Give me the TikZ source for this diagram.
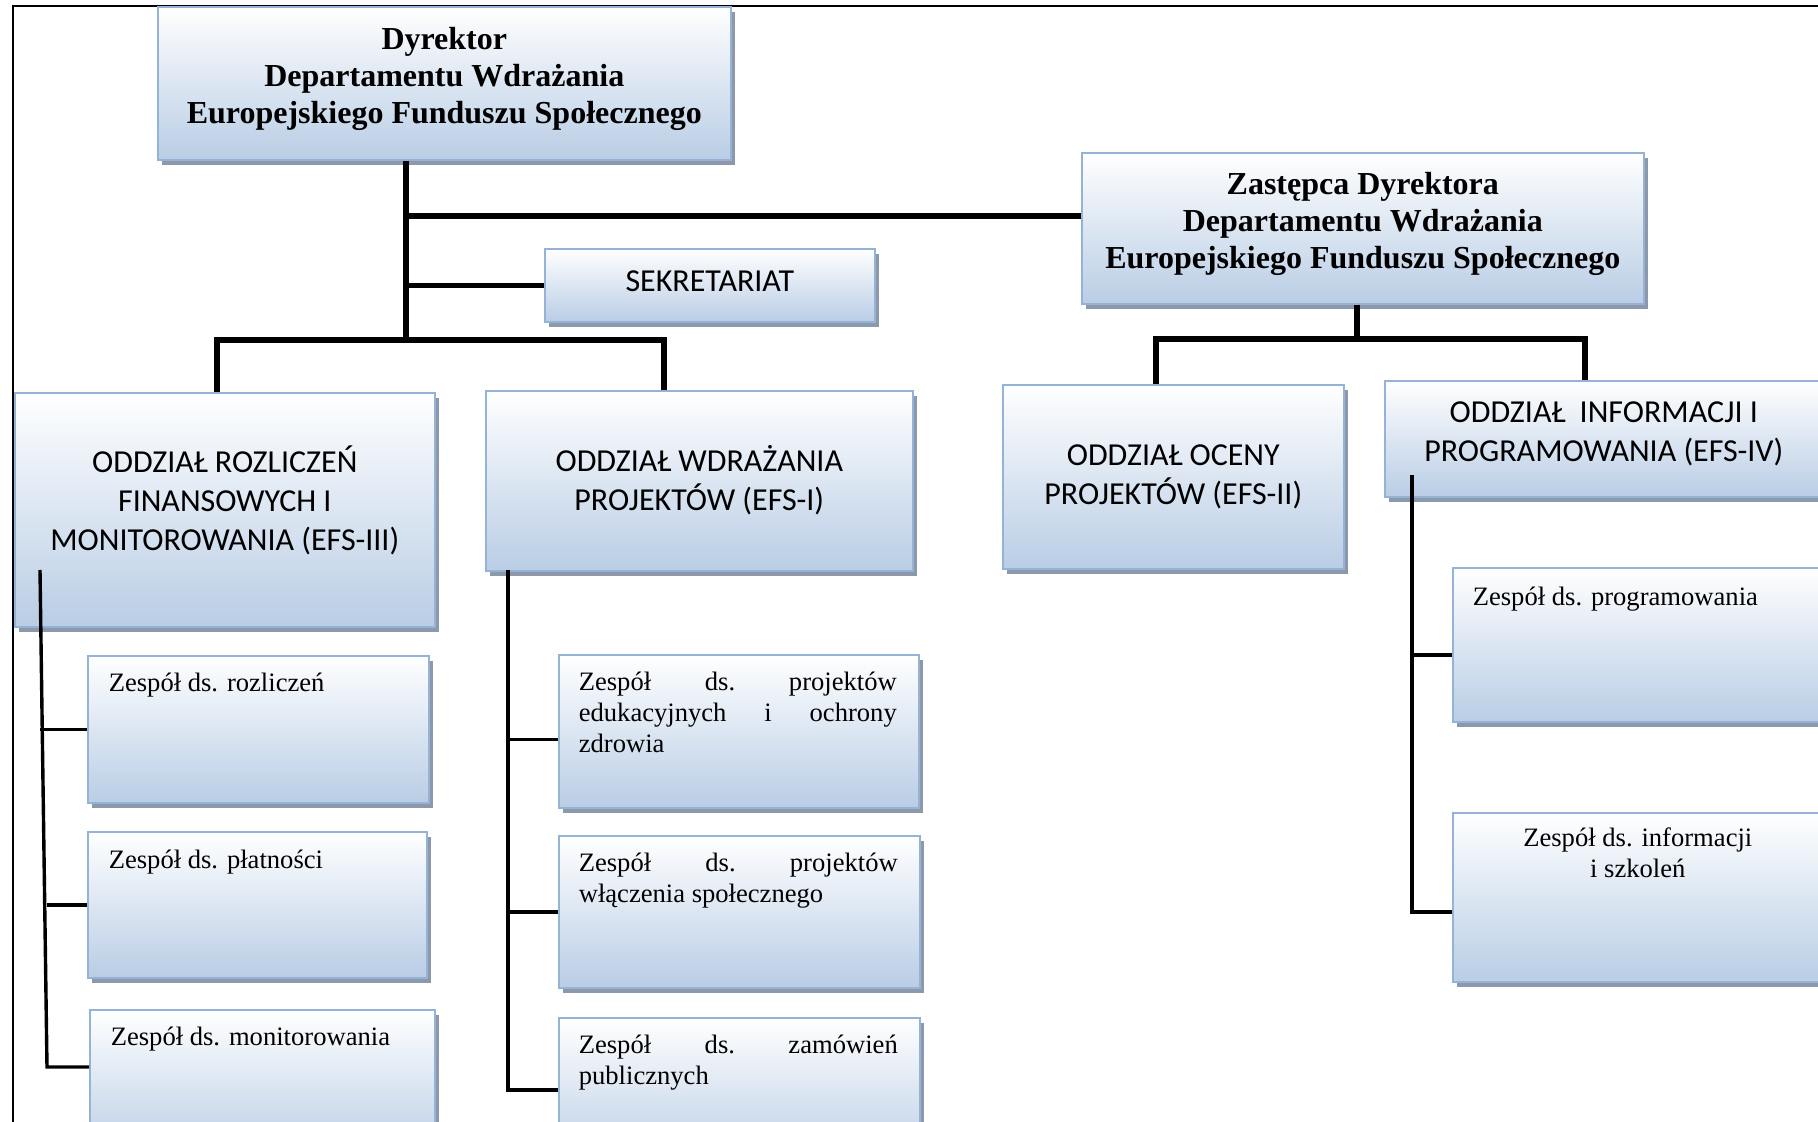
\documentclass[tikz,border=0pt]{standalone}
\usepackage{fontspec}
\setmainfont{Liberation Serif}
\newfontfamily\calibri{Carlito}
\usetikzlibrary{shadows}

\definecolor{boxline}{RGB}{149,179,215}
\definecolor{boxfill}{RGB}{185,205,229}
\definecolor{boxshadow}{RGB}{141,153,170}

\newcommand\inbox[4]{\parbox[c][#2][t]{#1}{\rule{0pt}{#3}#4\par}}
\newcommand\headfont{\bfseries\fontsize{16}{18.5}\selectfont}
\newcommand\unitfont{\calibri\fontsize{16}{19.5}\selectfont}
\newcommand\teamfont{\fontsize{13.3}{15.5}\selectfont}

\begin{document}
\begin{tikzpicture}[x=0.5pt, y=-0.5pt,
  unit/.style = {shape=rectangle, inner sep=0pt, anchor=north west,
    draw=boxline, line width=0.8pt,
    top color=white, bottom color=boxfill,
    drop shadow={shadow xshift=2pt, shadow yshift=-2.5pt,
      fill=boxshadow, opacity=1}},
  link/.style = {line width=2.6pt},
  sublink/.style = {line width=1.7pt},
  frame/.style = {line width=1.1pt}]
  \useasboundingbox (0,0) rectangle (1818,1122);
  \clip (0,0) rectangle (1818,1122);
  \draw[frame] (13,1130) -- (13,6) -- (1830,6);

  % kierownictwo
  \node[unit] (dyr) at (157,6) {\inbox{286.5pt}{76.5pt}{21.3pt}{\centering\headfont
    Dyrektor\\ Departamentu Wdrażania\\ Europejskiego Funduszu Społecznego}};
  \node[unit] (zast) at (1081,152) {\inbox{281pt}{75.5pt}{21pt}{\centering\headfont
    Zastępca Dyrektora\\ Departamentu Wdrażania\\ Europejskiego Funduszu Społecznego}};
  \node[unit] (sekr) at (544,248) {\inbox{165pt}{36.5pt}{21.5pt}{\centering\unitfont
    SEKRETARIAT}};

  % oddzialy
  \node[unit] (efs3) at (14,392) {\inbox{210pt}{117pt}{40pt}{\centering\unitfont
    ODDZIAŁ ROZLICZEŃ\\ FINANSOWYCH I\\ MONITOROWANIA (EFS-III)}};
  \node[unit] (efs1) at (485,390) {\inbox{213.5pt}{90pt}{40.3pt}{\centering\unitfont
    ODDZIAŁ WDRAŻANIA\\ PROJEKTÓW (EFS-I)}};
  \node[unit] (efs2) at (1002,384) {\inbox{170.5pt}{92pt}{40.5pt}{\centering\unitfont
    ODDZIAŁ OCENY\\ PROJEKTÓW (EFS-II)}};
  \node[unit] (efs4) at (1384,380) {\inbox{219pt}{58pt}{21pt}{\centering\unitfont
    ODDZIAŁ\ \ INFORMACJI I\\ PROGRAMOWANIA (EFS-IV)}};

  % zespoly
  \node[unit] (z31) at (87,655) {\inbox{170.5pt}{73.5pt}{18pt}{\leftskip=10.5pt\relax\teamfont
    Zespół ds. rozliczeń}};
  \node[unit] (z32) at (87,831) {\inbox{169.5pt}{73pt}{18.5pt}{\leftskip=10.5pt\relax\teamfont
    Zespół ds. płatności}};
  \node[unit] (z33) at (89,1009) {\inbox{172.5pt}{73.5pt}{18pt}{\leftskip=10.5pt\relax\teamfont
    Zespół ds. monitorowania}};
  \node[unit] (z11) at (558,654) {\inbox{180pt}{76.5pt}{18pt}{\leftskip=10pt\relax\rightskip=11pt\relax\teamfont
    Zespół\hfill ds.\hfill projektów\\ edukacyjnych\hfill i\hfill ochrony\\ zdrowia}};
  \node[unit] (z12) at (558,835) {\inbox{180.5pt}{76pt}{18pt}{\leftskip=10pt\relax\rightskip=11pt\relax\teamfont
    Zespół\hfill ds.\hfill projektów\\ włączenia społecznego}};
  \node[unit] (z13) at (558,1017) {\inbox{180.5pt}{73.5pt}{18pt}{\leftskip=10pt\relax\rightskip=11pt\relax\teamfont
    Zespół\hfill ds.\hfill zamówień\\ publicznych}};
  \node[unit] (z41) at (1452,567) {\inbox{185pt}{77pt}{18.8pt}{\leftskip=10pt\relax\teamfont
    Zespół ds. programowania}};
  \node[unit] (z42) at (1452,812) {\inbox{185pt}{84.5pt}{17pt}{\centering\teamfont
    Zespół ds. informacji\\ i szkoleń}};

  % polaczenia
  \coordinate (jz) at (406,216);
  \coordinate (jd) at (406,340);
  \coordinate (je3) at (217,340);
  \coordinate (je1) at (664,340);
  \draw[link] (dyr.south -| jd) -- (jd);
  \draw[link] (jz) -- (jz -| zast.west);
  \draw[link] (jd |- sekr.west) -- (sekr.west);
  \draw[link] (je3 |- efs3.north) -- (je3) -- (je1) -- (je1 |- efs1.north);

  \coordinate (kz) at (1357,339);
  \coordinate (ke2) at (1156,339);
  \coordinate (ke4) at (1585,339);
  \draw[link] (zast.south -| kz) -- (kz);
  \draw[link] (ke2 |- efs2.north) -- (ke2) -- (ke4) -- (ke4 |- efs4.north);

  \coordinate (t3) at (40,570);
  \coordinate (b3) at (47,1067);
  \draw[sublink] (t3) -- (b3) -- (b3 -| z33.west);
  \draw[sublink] (z31.west -| t3) -- (z31.west);
  \draw[sublink] (z32.west -| b3) -- (z32.west);

  \coordinate (t1) at (508,570);
  \coordinate (b1) at (508,1090);
  \coordinate (z11in) at ([yshift=-4pt]z11.west);
  \draw[sublink] (t1) -- (b1) -- (b1 -| z13.west);
  \draw[sublink] (z11in -| t1) -- (z11in);
  \draw[sublink] (z12.west -| t1) -- (z12.west);

  \coordinate (t4) at (1412,475);
  \coordinate (b4) at (1412,912);
  \coordinate (z41in) at ([yshift=-5pt]z41.west);
  \draw[sublink] (t4) -- (b4) -- (b4 -| z42.west);
  \draw[sublink] (z41in -| t4) -- (z41in);
\end{tikzpicture}
\end{document}
